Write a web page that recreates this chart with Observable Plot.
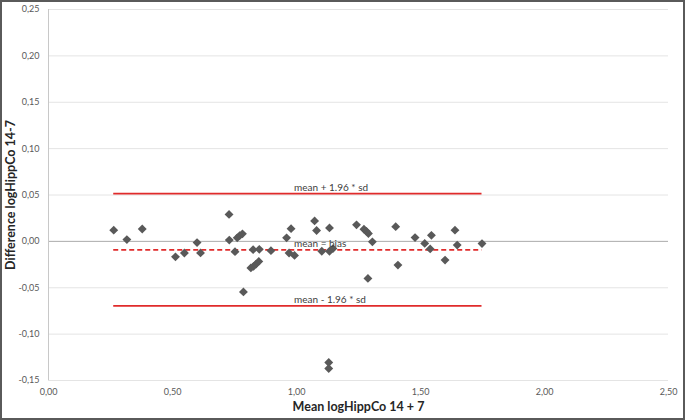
<!DOCTYPE html>
<html>
<head>
<meta charset="utf-8">
<script src="https://cdn.jsdelivr.net/npm/d3@7"></script>
<script src="https://cdn.jsdelivr.net/npm/@observablehq/plot@0.6"></script>
<style>
  html, body { margin: 0; padding: 0; background: #fff; }
  #chart svg { display: block; outline: 2px solid #5a5a5a; outline-offset: -2px; }
</style>
</head>
<body>
<div id="chart"></div>
<script>
const meanVals = [0.263, 0.316, 0.378, 0.512, 0.548, 0.599, 0.613, 0.728, 0.729, 0.752,
  0.761, 0.771, 0.782, 0.786, 0.816, 0.827, 0.837, 0.848, 0.825, 0.850,
  0.897, 0.960, 0.978, 0.970, 0.992, 1.073, 1.081, 1.102, 1.133, 1.133,
  1.147, 1.130, 1.130, 1.242, 1.272, 1.282, 1.290, 1.306, 1.288, 1.400,
  1.409, 1.478, 1.517, 1.544, 1.539, 1.599, 1.639, 1.648, 1.748];
const diffVals = [0.0121, 0.0019, 0.0133, -0.0167, -0.0126, -0.0013, -0.0124, 0.0291, 0.0014, -0.0111,
  0.0038, 0.0062, 0.0081, -0.0545, -0.0286, -0.0269, -0.0245, -0.0216, -0.0089, -0.0086,
  -0.0100, 0.0038, 0.0137, -0.0126, -0.0151, 0.0221, 0.0117, -0.0106, 0.0145, -0.0106,
  -0.0078, -0.1306, -0.1371, 0.0178, 0.0131, 0.0108, 0.0084, -0.0005, -0.0399, 0.0159,
  -0.0256, 0.0041, -0.0022, 0.0065, -0.0081, -0.0202, 0.0121, -0.0040, -0.0024];
const biasVal = -0.0092;
const upperVal = 0.0515;
const lowerVal = -0.0695;
const xTicks = [0, 0.5, 1.0, 1.5, 2.0, 2.5];
const yTicks = [-0.15, -0.10, -0.05, 0, 0.05, 0.10, 0.15, 0.20, 0.25];
const upperLabel = "mean + 1.96 * sd";
const biasLabel = "mean = bias";
const lowerLabel = "mean - 1.96 * sd";
const xTitle = "Mean logHippCo 14 + 7";
const yTitle = "Difference logHippCo 14-7";

const points = meanVals.map((m, i) => ({mean: m, diff: diffVals[i]}));
const xMin = d3.min(meanVals), xMax = d3.max(meanVals);
const labelX = 0.99;
const fmt = d => d.toFixed(2).replace(".", ",").replace(/^-0,00$/, "0,00");

const chart = Plot.plot({
  width: 685,
  height: 420,
  marginLeft: 48,
  marginRight: 17,
  marginTop: 9,
  marginBottom: 40,
  style: {fontFamily: "Lato, 'Open Sans', sans-serif", background: "#fff"},
  x: {domain: [0, 2.5]},
  y: {domain: [-0.15, 0.25]},
  marks: [
    Plot.gridY(yTicks, {stroke: "#e4e4e4", strokeOpacity: 1}),
    Plot.ruleY([0], {stroke: "#b0b0b0", strokeWidth: 1}),
    Plot.ruleX([0], {stroke: "#c8c8c8", strokeWidth: 1}),
    Plot.axisY(yTicks, {tickSize: 0, tickPadding: 9, tickFormat: fmt, fontSize: 9, fill: "#595959", label: null}),
    Plot.axisX(xTicks, {tickSize: 0, tickPadding: 8, tickFormat: fmt, fontSize: 9, fill: "#595959", label: null}),
    Plot.ruleY([upperVal], {x1: xMin, x2: xMax, stroke: "#e02b2b", strokeWidth: 1.6}),
    Plot.ruleY([lowerVal], {x1: xMin, x2: xMax, stroke: "#e02b2b", strokeWidth: 1.6}),
    Plot.ruleY([biasVal], {x1: xMin, x2: xMax, stroke: "#e02b2b", strokeWidth: 1.6, strokeDasharray: "5,3"}),
    Plot.dot(points, {x: "mean", y: "diff", symbol: "diamond2", r: 4, fill: "#595959", stroke: "none"}),
    Plot.text([upperLabel], {x: labelX, y: upperVal, dy: -6, text: d => d, textAnchor: "start", fontSize: 10, fill: "#404040"}),
    Plot.text([biasLabel], {x: labelX, y: biasVal, dy: -6, text: d => d, textAnchor: "start", fontSize: 10, fill: "#404040"}),
    Plot.text([lowerLabel], {x: labelX, y: lowerVal, dy: -6.5, text: d => d, textAnchor: "start", fontSize: 10, fill: "#404040"}),
    Plot.text([xTitle], {frameAnchor: "bottom", dy: 30, text: d => d, textAnchor: "middle", fontSize: 12.5, fontWeight: "bold", fill: "#262626"}),
    Plot.text([yTitle], {frameAnchor: "left", dx: -38, rotate: -90, text: d => d, textAnchor: "middle", fontSize: 12.5, fontWeight: "bold", fill: "#262626"})
  ]
});
document.getElementById("chart").append(chart);
</script>
</body>
</html>
